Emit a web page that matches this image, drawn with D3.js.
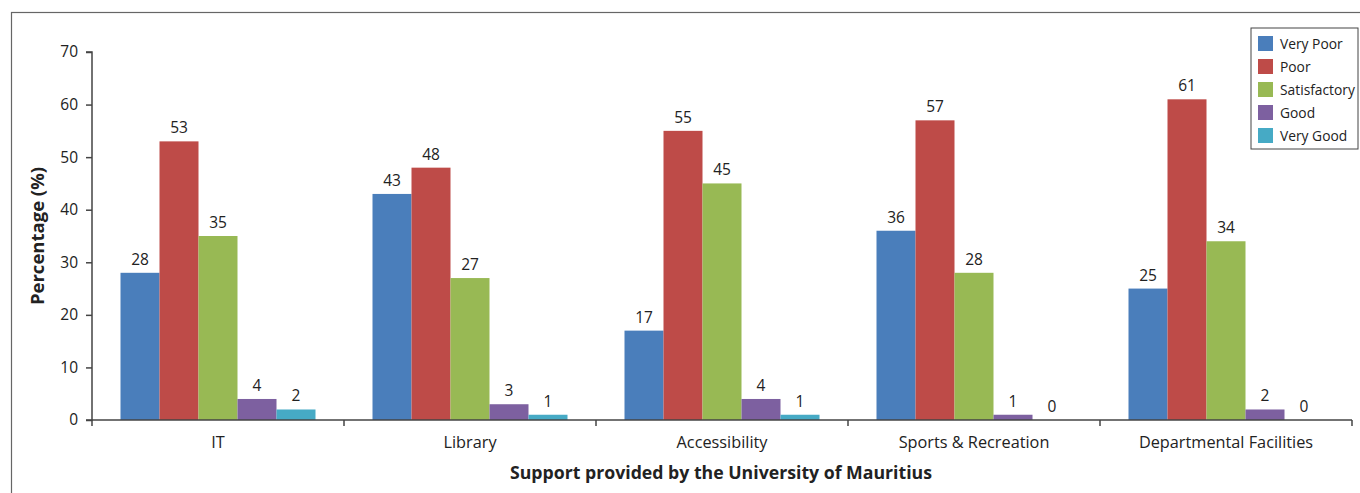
<!DOCTYPE html>
<html>
<head>
<meta charset="utf-8">
<script src="https://cdn.jsdelivr.net/npm/d3@7"></script>
<style>
  body { margin: 0; background: #fff; }
  text { font-family: "Open Sans", "Noto Sans", sans-serif; fill: #222; }
</style>
</head>
<body>
<div id="container"></div>
<script>
// data
let categories = ["IT", "Library", "Accessibility", "Sports & Recreation", "Departmental Facilities"];
let seriesNames = ["Very Poor", "Poor", "Satisfactory", "Good", "Very Good"];
let veryPoor = [28, 43, 17, 36, 25];
let poor = [53, 48, 55, 57, 61];
let satisfactory = [35, 27, 45, 28, 34];
let good = [4, 3, 4, 1, 2];
let veryGood = [2, 1, 1, 0, 0];
let yTicks = [0, 10, 20, 30, 40, 50, 60, 70];

let seriesValues = [veryPoor, poor, satisfactory, good, veryGood];
let colors = ["#4a7ebb", "#be4b48", "#98b954", "#7d60a0", "#46aac5"];

let w = 1360;
let h = 493;

let viz = d3.select("#container")
  .append("svg")
    .attr("width", w)
    .attr("height", h);

// frame
viz.append("rect")
  .attr("x", 11.5).attr("y", 12.5)
  .attr("width", w + 10).attr("height", h + 10)
  .attr("fill", "none")
  .attr("stroke", "#666")
  .attr("stroke-width", 1.2);

let plotLeft = 92, plotRight = 1352, plotTop = 52, plotBottom = 420;

let xScale = d3.scaleBand().domain(categories).range([plotLeft, plotRight]).paddingInner(0).paddingOuter(0);
let inner = d3.scaleBand().domain(seriesNames).range([28.5, xScale.bandwidth() - 28.5]);
let yScale = d3.scaleLinear().domain([0, 70]).range([plotBottom, plotTop]);

// bars
let table = [];
categories.forEach(function(c, i){
  seriesNames.forEach(function(s, j){
    table.push({cat: c, series: s, value: seriesValues[j][i], color: colors[j]});
  });
});

let graphgroup = viz.append("g").attr("class", "graphgroup");
graphgroup.selectAll(".bar").data(table).enter()
  .append("rect")
    .attr("class", "bar")
    .attr("x", function(d){ return xScale(d.cat) + inner(d.series); })
    .attr("y", function(d){ return yScale(d.value); })
    .attr("width", inner.bandwidth())
    .attr("height", function(d){ return yScale(0) - yScale(d.value); })
    .attr("fill", function(d){ return d.color; });

graphgroup.selectAll(".lbl").data(table).enter()
  .append("text")
    .attr("class", "lbl")
    .attr("x", function(d){ return xScale(d.cat) + inner(d.series) + inner.bandwidth() / 2; })
    .attr("y", function(d){ return yScale(d.value) - 8; })
    .attr("text-anchor", "middle")
    .attr("font-size", 15.5)
    .text(function(d){ return d.value; });

// y axis
let yAxis = d3.axisLeft(yScale).tickValues(yTicks).tickSize(6).tickPadding(8);
let yAxisGroup = viz.append("g").attr("class", "yaxis")
  .attr("transform", "translate(" + plotLeft + ",0)")
  .call(yAxis);
yAxisGroup.select(".domain").attr("d", "M-6," + plotTop + "H0V" + plotBottom + "H-6");

// x axis
let xAxisGroup = viz.append("g").attr("class", "xaxis")
  .attr("transform", "translate(0," + plotBottom + ")");
xAxisGroup.append("line")
  .attr("x1", plotLeft).attr("x2", plotRight)
  .attr("stroke", "#444").attr("stroke-width", 1.5);
let bounds = categories.map(function(c){ return xScale(c); }).concat([plotRight]);
xAxisGroup.selectAll(".xt").data(bounds).enter()
  .append("line")
    .attr("class", "xt")
    .attr("x1", function(d){ return d; }).attr("x2", function(d){ return d; })
    .attr("y1", 0).attr("y2", 6)
    .attr("stroke", "#444").attr("stroke-width", 1.5);
xAxisGroup.selectAll(".xl").data(categories).enter()
  .append("text")
    .attr("class", "xl")
    .attr("x", function(d){ return xScale(d) + xScale.bandwidth() / 2; })
    .attr("y", 28)
    .attr("text-anchor", "middle")
    .attr("font-size", 16.3)
    .text(function(d){ return d; });

yAxisGroup.selectAll("path, line").attr("stroke", "#444").attr("stroke-width", 1.5);
yAxisGroup.selectAll("text").attr("font-size", 15.5).attr("fill", "#222")
  .attr("font-family", "'Open Sans', sans-serif");

// axis titles
viz.append("text")
  .attr("transform", "translate(44," + ((plotTop + plotBottom) / 2) + ") rotate(-90)")
  .attr("text-anchor", "middle")
  .attr("font-size", 18.5)
  .attr("font-weight", "bold")
  .text("Percentage (%)");
viz.append("text")
  .attr("x", 721).attr("y", 479)
  .attr("text-anchor", "middle")
  .attr("font-size", 17.7)
  .attr("font-weight", "bold")
  .text("Support provided by the University of Mauritius");

// legend
let legend = viz.append("g").attr("transform", "translate(1251,28)");
legend.append("rect")
  .attr("x", 0).attr("y", 0).attr("width", 107).attr("height", 121)
  .attr("fill", "#fff").attr("stroke", "#444").attr("stroke-width", 1);
let items = legend.selectAll(".li").data(seriesNames).enter()
  .append("g")
    .attr("class", "li")
    .attr("transform", function(d, i){ return "translate(7," + (8 + i * 23) + ")"; });
items.append("rect")
  .attr("width", 15).attr("height", 15)
  .attr("fill", function(d, i){ return colors[i]; });
items.append("text")
  .attr("x", 22).attr("y", 12.5)
  .attr("font-size", 13.8)
  .text(function(d){ return d; });
</script>
</body>
</html>
